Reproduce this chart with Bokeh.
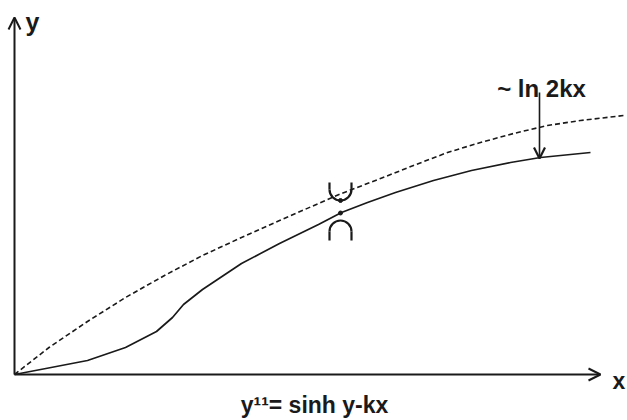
import math
from bokeh.plotting import figure
from bokeh.models import Range1d, Arrow, OpenHead, Label
from bokeh.embed import file_html
from bokeh.resources import INLINE

# ---- data (sketch units: 1 unit = 100 px) ----
dashed_x = [0, 0.345, 0.73, 1.11, 1.50, 1.88, 2.27, 2.65, 3.04, 3.27, 3.66, 3.99, 4.33, 4.66, 4.99, 5.33, 5.66, 6.09]
dashed_y = [0, 0.27, 0.53, 0.77, 0.99, 1.19, 1.37, 1.54, 1.71, 1.81, 1.96, 2.09, 2.22, 2.32, 2.41, 2.49, 2.54, 2.59]

solid_x = [0, 0.34, 0.73, 1.11, 1.42, 1.58, 1.69, 1.88, 2.27, 2.65, 3.04, 3.27, 3.53, 3.81, 4.19, 4.57, 4.96, 5.26, 5.76]
solid_y = [0, 0.065, 0.14, 0.27, 0.43, 0.57, 0.70, 0.85, 1.11, 1.31, 1.50, 1.62, 1.72, 1.82, 1.94, 2.04, 2.12, 2.17, 2.22]

x_axis_end = 5.86
y_axis_end = 3.57

mark_x = 3.26
cup_center_y = 1.85
cap_center_y = 1.43
mark_r = 0.11
cup_stem_top = 1.92
cap_stem_bottom = 1.34
dot_y = [1.74, 1.615]

asym_label = "~ ln 2kx"
asym_x = 5.27
asym_label_y = 2.86
asym_arrow_y = [2.82, 2.16]

eq_label = "y\u00b9\u00b9= sinh y-kx"
eq_x = 3.0
eq_y = -0.30

x_label_pos = (5.98, -0.06)
y_label_pos = (0.11, 3.53)

ink = "#1a1a1a"
font = "Liberation Sans"

p = figure(width=627, height=420, output_backend="svg", toolbar_location=None,
           x_range=Range1d(-0.14, 6.13), y_range=Range1d(-0.46, 3.74),
           min_border=0, outline_line_color=None)
p.axis.visible = False
p.grid.visible = False
p.background_fill_color = "white"

# axes with arrows
p.add_layout(Arrow(end=OpenHead(size=12, line_width=2, line_color=ink),
                   x_start=0, y_start=0, x_end=x_axis_end, y_end=0,
                   line_width=2, line_color=ink))
p.add_layout(Arrow(end=OpenHead(size=12, line_width=2, line_color=ink),
                   x_start=0, y_start=0, x_end=0, y_end=y_axis_end,
                   line_width=2, line_color=ink))

# curves
p.line(dashed_x, dashed_y, line_color=ink, line_width=1.6, line_dash="5 3", line_join="round")
p.line(solid_x, solid_y, line_color=ink, line_width=1.7, line_join="round")

# cup and cap marks
p.arc(x=[mark_x], y=[cup_center_y], radius=mark_r, start_angle=math.pi, end_angle=2 * math.pi,
      line_color=ink, line_width=2.2)
p.segment(x0=[mark_x - mark_r, mark_x + mark_r], y0=[cup_center_y, cup_center_y],
          x1=[mark_x - mark_r, mark_x + mark_r], y1=[cup_stem_top, cup_stem_top],
          line_color=ink, line_width=2.2)
p.arc(x=[mark_x], y=[cap_center_y], radius=mark_r, start_angle=0, end_angle=math.pi,
      line_color=ink, line_width=2.2)
p.segment(x0=[mark_x - mark_r, mark_x + mark_r], y0=[cap_center_y, cap_center_y],
          x1=[mark_x - mark_r, mark_x + mark_r], y1=[cap_stem_bottom, cap_stem_bottom],
          line_color=ink, line_width=2.2)
p.scatter(x=[mark_x, mark_x], y=dot_y, size=4, color=ink)

# asymptote label and arrow
p.add_layout(Arrow(end=OpenHead(size=11, line_width=2.2, line_color=ink),
                   x_start=asym_x - 0.02, y_start=asym_arrow_y[0], x_end=asym_x - 0.02, y_end=asym_arrow_y[1],
                   line_width=1.6, line_color=ink))
p.add_layout(Label(x=asym_x, y=asym_label_y, text=asym_label, text_align="center",
                   text_baseline="alphabetic", text_font=font, text_font_size="24px",
                   text_font_style="bold", text_color=ink))

# axis labels
p.add_layout(Label(x=x_label_pos[0], y=x_label_pos[1], text="x", text_align="left", text_baseline="alphabetic",
                   text_font=font, text_font_size="23px", text_font_style="bold", text_color=ink))
p.add_layout(Label(x=y_label_pos[0], y=y_label_pos[1], text="y", text_align="left", text_baseline="alphabetic",
                   text_font=font, text_font_size="25px", text_font_style="bold", text_color=ink))

# equation
p.add_layout(Label(x=eq_x, y=eq_y, text=eq_label, text_align="center", text_baseline="alphabetic",
                   text_font=font, text_font_size="23px", text_font_style="bold", text_color=ink))

open("out.html", "w").write(file_html(p, INLINE))
